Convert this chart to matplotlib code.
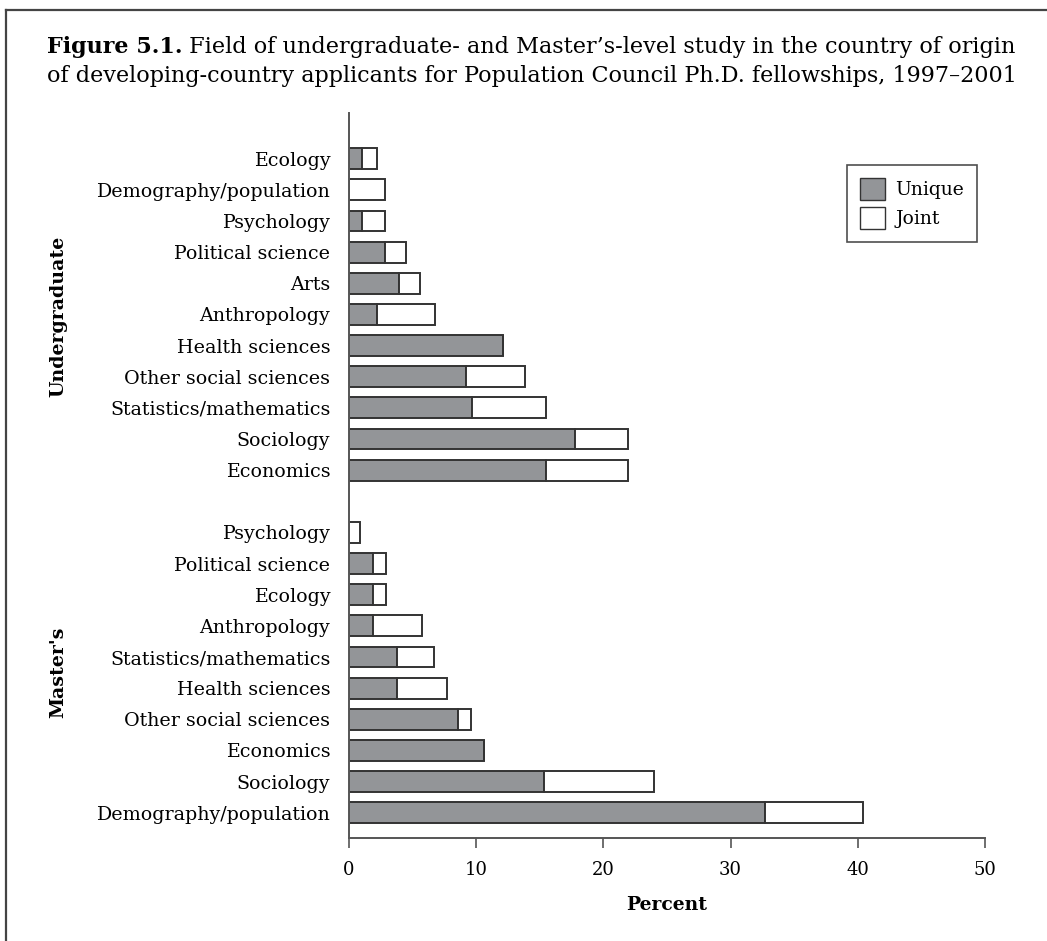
import matplotlib
matplotlib.use('Agg')
import matplotlib.pyplot as plt
from matplotlib.patches import Patch
from matplotlib.lines import Line2D

plt.rcParams['font.family'] = ['DejaVu Serif']

# Undergraduate level (top to bottom)
ug_fields = ['Ecology', 'Demography/population', 'Psychology', 'Political science',
             'Arts', 'Anthropology', 'Health sciences', 'Other social sciences',
             'Statistics/mathematics', 'Sociology', 'Economics']
ug_unique = [1.0, 0.0, 1.0, 2.8, 3.9, 2.2, 12.1, 9.2, 9.7, 17.8, 15.5]
ug_joint = [1.2, 2.8, 1.8, 1.7, 1.7, 4.6, 0.0, 4.6, 5.8, 4.1, 6.4]

# Master's level (top to bottom)
ms_fields = ['Psychology', 'Political science', 'Ecology', 'Anthropology',
             'Statistics/mathematics', 'Health sciences', 'Other social sciences',
             'Economics', 'Sociology', 'Demography/population']
ms_unique = [0.0, 1.9, 1.9, 1.9, 3.8, 3.8, 8.6, 10.6, 15.3, 32.7]
ms_joint = [0.9, 1.0, 1.0, 3.8, 2.9, 3.9, 1.0, 0.0, 8.7, 7.7]

x_ticks = [0, 10, 20, 30, 40, 50]

title_bold = 'Figure 5.1.'
title_line1 = "Field of undergraduate- and Master\u2019s-level study in the country of origin"
title_line2 = 'of developing-country applicants for Population Council Ph.D. fellowships, 1997\u20132001'

gray = '#939598'
edge = '#333333'
axis_col = '#555555'

W, H = 1047, 941
fig = plt.figure(figsize=(W / 100, H / 100), dpi=100)
ax = fig.add_axes([349 / W, 1 - 838 / H, (985 - 349) / W, (838 - 113) / H])

fields = ug_fields + [''] + ms_fields
unique = ug_unique + [None] + ms_unique
joint = ug_joint + [None] + ms_joint
pos = list(range(len(fields)))

for p, u, j in zip(pos, unique, joint):
    if u is None:
        continue
    ax.barh(p, u, height=0.67, color=gray, edgecolor=edge, linewidth=1.4)
    ax.barh(p, j, left=u, height=0.67, color='white', edgecolor=edge, linewidth=1.4)

ax.set_ylim(21.81, -1.47)
ax.set_xlim(0, 50)
ax.set_yticks([p for p, f in zip(pos, fields) if f],
              [f for f in fields if f], fontsize=13.7)
ax.set_xticks(x_ticks)
ax.tick_params(axis='y', length=0, pad=13.5)
ax.tick_params(axis='x', direction='out', length=7.5, width=1.2, color=axis_col,
               pad=9, labelsize=13)
for s in ['top', 'right']:
    ax.spines[s].set_visible(False)
for s in ['left', 'bottom']:
    ax.spines[s].set_color(axis_col)
    ax.spines[s].set_linewidth(1.4)

# legend
handles = [Patch(facecolor=gray, edgecolor=edge, label='Unique'),
           Patch(facecolor='white', edgecolor=edge, label='Joint')]
leg = ax.legend(handles=handles, loc='upper right', bbox_to_anchor=(977 / W, 1 - 165 / H),
                bbox_transform=fig.transFigure, borderaxespad=0, fontsize=13.5,
                frameon=True, fancybox=False, edgecolor='#222222',
                handlelength=1.3, handleheight=1.45, labelspacing=0.35,
                handletextpad=0.55, borderpad=0.7)
leg.get_frame().set_linewidth(1.2)

# group labels
fig.text(58 / W, 1 - 316 / H, 'Undergraduate', rotation=90, fontsize=13.7,
         weight='bold', ha='center', va='center')
fig.text(58 / W, 1 - 672 / H, "Master's", rotation=90, fontsize=13.7,
         weight='bold', ha='center', va='center')
fig.text(667 / W, 1 - 905 / H, 'Percent', fontsize=13.5, weight='bold',
         ha='center', va='center')

# title, sized so the second line spans the same width as the reference
r = fig.canvas.get_renderer()
t2 = fig.text(47 / W, 1 - 82 / H, title_line2, fontsize=15, va='baseline')
fs = 15 * 971 / t2.get_window_extent(r).width
t2.set_fontsize(fs)
tb = fig.text(47 / W, 1 - 53 / H, title_bold, fontsize=fs, weight='bold', va='baseline')
bx = tb.get_window_extent(r).x1
t1 = fig.text(bx / W, 1 - 53 / H, ' ' + title_line1, fontsize=fs, va='baseline')
# stretch the first line a little so it ends where the reference line ends
w1 = t1.get_window_extent(r).width
t1.set_fontsize(fs * (1019 - bx) / w1)

# frame around the figure
fig.add_artist(Line2D([6 / W, 1], [1 - 10 / H, 1 - 10 / H], transform=fig.transFigure,
                      color='#444444', linewidth=1.6))
fig.add_artist(Line2D([6 / W, 6 / W], [0, 1 - 10 / H], transform=fig.transFigure,
                      color='#444444', linewidth=1.6))

fig.savefig('out.png', dpi=100)
